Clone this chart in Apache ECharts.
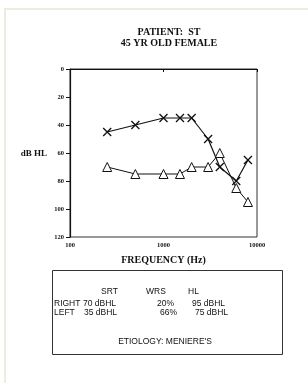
<!DOCTYPE html>
<html>
<head>
<meta charset="UTF-8">
<script src="https://cdn.jsdelivr.net/npm/echarts@6/dist/echarts.min.js"></script>
<style>html,body{margin:0;padding:0;background:#fff}</style>
</head>
<body>
<div id="main" style="width:308px;height:383px;"></div>
<script>
// audiogram data (frequency in Hz, threshold in dB HL)
var freqs = [250, 500, 1000, 1500, 2000, 3000, 4000, 6000, 8000];
var crossVals = [45, 40, 35, 35, 35, 50, 70, 80, 65];
var triVals = [70, 75, 75, 75, 70, 70, 60, 85, 95];
var titleLines = ['PATIENT:  ST', '45 YR OLD FEMALE'];
var tableHead = ['SRT', 'WRS', 'HL'];
var rightRow = ['RIGHT', '70 dBHL', '20%', '95 dBHL'];
var leftRow = ['LEFT', '35 dBHL', '66%', '75 dBHL'];
var etiology = 'ETIOLOGY: MENIERE\'S';

function pairs(vals) {
    return freqs.map(function (f, i) { return [f, vals[i]]; });
}

var serif = '"Liberation Serif", "Times New Roman", serif';
var sans = '"Liberation Sans", Arial, sans-serif';
var colX = [54, 83, 157, 192];
var fs = 8.5;

function txt(x, y, s, font, size, weight, align) {
    return {
        type: 'text', x: x, y: y,
        style: { text: s, font: (weight || 'normal') + ' ' + size + 'px ' + font, fill: '#111', textAlign: align || 'left', textVerticalAlign: 'middle' }
    };
}

var chart = echarts.init(document.getElementById('main'));
var option = {
    animation: false,
    grid: { left: 70, right: 51, top: 69, bottom: 146, show: true, borderColor: '#333', borderWidth: 1 },
    xAxis: {
        type: 'log', logBase: 10, min: 100, max: 10000,
        name: 'FREQUENCY (Hz)', nameLocation: 'middle', nameGap: 18,
        nameTextStyle: { fontFamily: serif, fontWeight: 'bold', fontSize: 10, color: '#111' },
        axisLine: { lineStyle: { color: '#111', width: 1.2 } },
        axisTick: { show: true, length: 3, lineStyle: { color: '#111' } },
        minorTick: { show: false },
        splitLine: { show: false },
        axisLabel: {
            fontFamily: serif, fontWeight: 'bold', fontSize: 6.5, color: '#111', margin: 5,
            formatter: function (v) { return String(Math.round(v)); }
        }
    },
    yAxis: {
        type: 'value', inverse: true, min: 0, max: 120, interval: 20,
        axisLine: { show: true, lineStyle: { color: '#111', width: 1.2 } },
        axisTick: { show: true, length: 4, lineStyle: { color: '#111' } },
        splitLine: { show: false },
        axisLabel: { fontFamily: serif, fontWeight: 'bold', fontSize: 6.5, color: '#111', margin: 6 }
    },
    series: [
        {
            type: 'line', data: pairs(crossVals),
            symbol: 'path://M0,0L10,10M10,0L0,10', symbolSize: 8,
            lineStyle: { color: '#111', width: 1.2 },
            itemStyle: { color: '#111', borderColor: '#111', borderWidth: 1.3 }
        },
        {
            type: 'line', data: pairs(triVals),
            symbol: 'triangle', symbolSize: 9,
            lineStyle: { color: '#111', width: 1 },
            itemStyle: { color: '#fff', borderColor: '#111', borderWidth: 1 }
        }
    ],
    graphic: [
        { type: 'rect', shape: { x: 5, y: 9, width: 400, height: 400 }, style: { fill: 'none', stroke: '#eeebdf', lineWidth: 2 } },
        txt(169, 32, titleLines[0], serif, 10, 'bold', 'center'),
        txt(169, 43, titleLines[1], serif, 10, 'bold', 'center'),
        txt(47, 154, 'dB HL', serif, 9, 'bold', 'right'),
        { type: 'rect', shape: { x: 52.5, y: 270.5, width: 230, height: 84 }, style: { fill: 'none', stroke: '#333', lineWidth: 1 } },
        txt(101, 292, tableHead[0], sans, fs),
        txt(146, 292, tableHead[1], sans, fs),
        txt(188, 292, tableHead[2], sans, fs),
        txt(colX[0], 304, rightRow[0], sans, fs),
        txt(colX[1], 304, rightRow[1], sans, fs),
        txt(colX[2], 304, rightRow[2], sans, fs),
        txt(colX[3], 304, rightRow[3], sans, fs),
        txt(colX[0], 313, leftRow[0], sans, fs),
        txt(colX[1] + 1, 313, leftRow[1], sans, fs),
        txt(colX[2] + 3, 313, leftRow[2], sans, fs),
        txt(colX[3] + 3, 313, leftRow[3], sans, fs),
        txt(165, 342, etiology, sans, fs, 'normal', 'center')
    ]
};
chart.setOption(option);
</script>
</body>
</html>
